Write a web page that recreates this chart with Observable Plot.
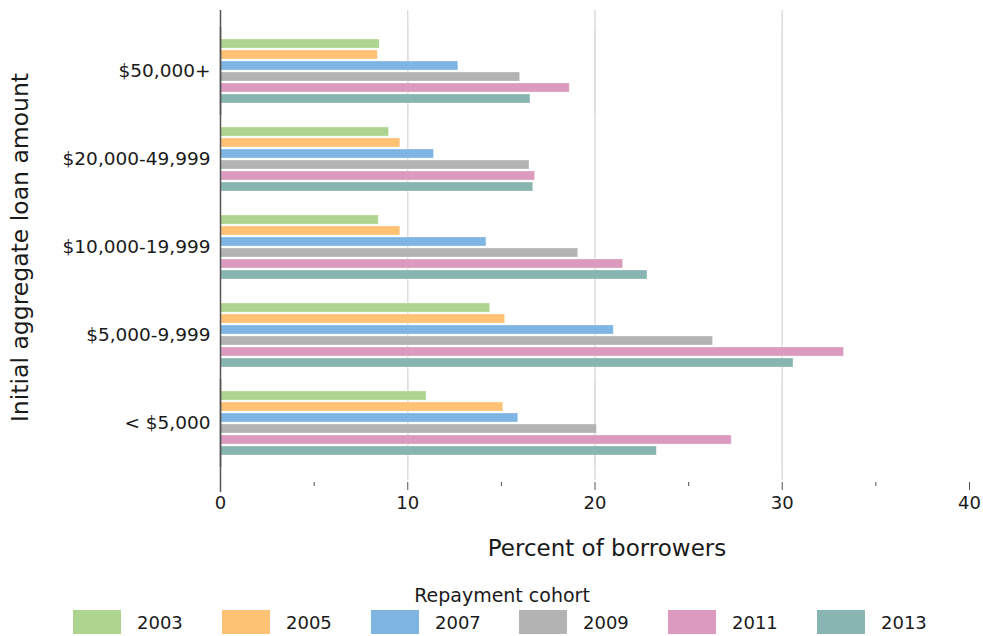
<!DOCTYPE html>
<html>
<head>
<meta charset="utf-8">
<script src="https://cdn.jsdelivr.net/npm/d3@7"></script>
<script src="https://cdn.jsdelivr.net/npm/@observablehq/plot@0.6"></script>
<style>
  html, body { margin: 0; padding: 0; background: #fff; }
  body { width: 983px; height: 636px; overflow: hidden; font-family: "DejaVu Sans", sans-serif; color: #1a1a1a; }
  #chart svg { display: block; }
  #legend { position: relative; height: 71px; }
  #legend .title { position: absolute; left: 0; width: 1004px; top: 19px; text-align: center; font-size: 19px; line-height: 22px; }
  #legend .item { position: absolute; top: 45px; display: flex; align-items: center; font-size: 18px; }
  #legend .sw { width: 48px; height: 24px; margin-right: 16px; }
</style>
</head>
<body>
<div id="chart"></div>
<div id="legend"></div>
<script>
const categories = ["$50,000+", "$20,000-49,999", "$10,000-19,999", "$5,000-9,999", "< $5,000"];
const cohorts = ["2003", "2005", "2007", "2009", "2011", "2013"];
const v2003 = [8.5, 9.0, 8.45, 14.4, 11.0];
const v2005 = [8.4, 9.6, 9.6, 15.2, 15.1];
const v2007 = [12.7, 11.4, 14.2, 21.0, 15.9];
const v2009 = [16.0, 16.5, 19.1, 26.3, 20.1];
const v2011 = [18.65, 16.8, 21.5, 33.3, 27.3];
const v2013 = [16.55, 16.7, 22.8, 30.6, 23.3];
const colors = ["#aed590", "#fdc274", "#7fb5e2", "#b3b3b4", "#dc9abe", "#88b4b2"];
const majorTicks = [0, 10, 20, 30, 40];
const minorTicks = [5, 15, 25, 35];
const gridTicks = [10, 20, 30];
const xTitle = "Percent of borrowers";
const yTitle = "Initial aggregate loan amount";

const series = [v2003, v2005, v2007, v2009, v2011, v2013];
const data = [];
categories.forEach((c, i) => cohorts.forEach((y, j) => data.push({cat: c, cohort: y, value: series[j][i]})));
const gridData = categories.flatMap(c => gridTicks.map(t => ({cat: c, tick: t})));
const spineData = categories.map(c => ({cat: c, tick: 0}));
const first = categories[0], last = categories[categories.length - 1];

const gridStyle = {x: "tick", fy: "cat", stroke: "#dddddd", strokeWidth: 1.5};
const spineStyle = {x: "tick", fy: "cat", stroke: "#555555", strokeWidth: 1.5};

const chart = Plot.plot({
  width: 983,
  height: 565,
  marginLeft: 220,
  marginRight: 14,
  marginTop: 27,
  marginBottom: 98,
  style: {fontFamily: "DejaVu Sans, sans-serif", fontSize: "18px", color: "#1a1a1a", background: "#fff"},
  x: {domain: [0, 40], axis: null},
  y: {domain: cohorts, paddingInner: 0.18, paddingOuter: 0.88, axis: null},
  fy: {domain: categories, paddingInner: 0, paddingOuter: 0, axis: null},
  color: {domain: cohorts, range: colors},
  marks: [
    Plot.ruleX(gridData, gridStyle),
    Plot.ruleX(gridData.filter(d => d.cat === first), {...gridStyle, insetTop: -17}),
    Plot.ruleX(gridData.filter(d => d.cat === last), {...gridStyle, insetBottom: -13}),
    Plot.barX(data, {x: "value", y: "cohort", fy: "cat", fill: "cohort", stroke: "#ffffff", strokeOpacity: 0.35, strokeWidth: 0.8}),
    Plot.ruleX(spineData, spineStyle),
    Plot.ruleX(spineData.filter(d => d.cat === first), {...spineStyle, insetTop: -17}),
    Plot.ruleX(spineData.filter(d => d.cat === last), {...spineStyle, insetBottom: -25}),
    Plot.axisX({ticks: majorTicks, tickSize: 8, tickPadding: 6, fontSize: 18, stroke: "#555", dy: 15, label: null}),
    Plot.axisX({ticks: minorTicks, tickSize: 4, tickFormat: () => "", stroke: "#555", dy: 15, label: null}),
    Plot.text([xTitle], {fy: [last], frameAnchor: "bottom", lineAnchor: "middle", dx: 12, dy: 81, fontSize: 23, fill: "#1a1a1a"}),
    Plot.axisFy({anchor: "left", tickSize: 0, tickPadding: 10, fontSize: 18.5, label: null}),
    Plot.axisFy({anchor: "left", ticks: [], label: yTitle, labelAnchor: "center", labelArrow: "none", labelOffset: 209, fontSize: 23.5})
  ]
});
document.getElementById("chart").appendChild(chart);

const color = chart.scale("color");
const legend = d3.select("#legend");
legend.append("div").attr("class", "title").text("Repayment cohort");
const lefts = [73, 222, 371, 519, 668, 817];
cohorts.forEach((c, i) => {
  const it = legend.append("div").attr("class", "item").style("left", lefts[i] + "px");
  it.append("div").attr("class", "sw").style("background", color.apply(c));
  it.append("span").text(c);
});
</script>
</body>
</html>
